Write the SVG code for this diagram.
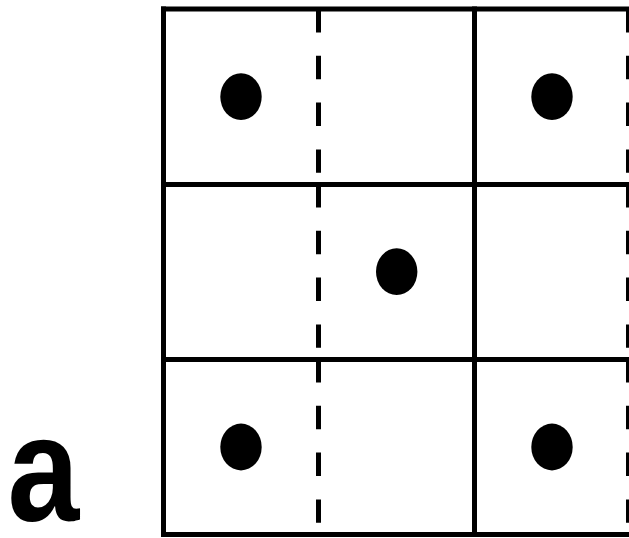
<svg xmlns="http://www.w3.org/2000/svg" width="629" height="538" viewBox="0 0 629 538">
  <style>
    .solid { stroke: #000; stroke-width: 5; fill: none; stroke-linecap: square; }
    .dash { stroke: #000; stroke-width: 5; fill: none; stroke-dasharray: 23.4 23.4; }
    .dot { fill: #000; }
    .label { font-family: "Liberation Sans", Arial, sans-serif; font-weight: bold; font-size: 150px; fill: #000; }
  </style>
  <rect width="629" height="538" fill="#fff"/>
  <g id="grid">
    <g id="dashed-lines">
      <line class="dash" x1="318.5" y1="9" x2="318.5" y2="184"/>
      <line class="dash" x1="318.5" y1="184" x2="318.5" y2="359"/>
      <line class="dash" x1="318.5" y1="359" x2="318.5" y2="534"/>
      <line class="dash" x1="628.5" y1="9" x2="628.5" y2="184"/>
      <line class="dash" x1="628.5" y1="184" x2="628.5" y2="359"/>
      <line class="dash" x1="628.5" y1="359" x2="628.5" y2="534"/>
    </g>
    <g id="solid-lines">
      <line class="solid" x1="163.5" y1="9" x2="163.5" y2="534.5"/>
      <line class="solid" x1="474.5" y1="9" x2="474.5" y2="534.5"/>
      <line class="solid" x1="163.5" y1="9" x2="628" y2="9"/>
      <line class="solid" x1="163.5" y1="184.5" x2="628" y2="184.5"/>
      <line class="solid" x1="163.5" y1="359.5" x2="628" y2="359.5"/>
      <line class="solid" x1="163.5" y1="534.5" x2="628" y2="534.5"/>
    </g>
  </g>
  <g id="dots">
    <ellipse class="dot" cx="241" cy="96.7" rx="20.7" ry="23.4"/>
    <ellipse class="dot" cx="552" cy="96.7" rx="20.7" ry="23.4"/>
    <ellipse class="dot" cx="396.7" cy="271.7" rx="20.7" ry="23.4"/>
    <ellipse class="dot" cx="241" cy="447" rx="20.7" ry="23.4"/>
    <ellipse class="dot" cx="552" cy="447" rx="20.7" ry="23.4"/>
  </g>
  <text class="label" transform="translate(7.5,521) scale(0.86,1)" x="0" y="0">a</text>
</svg>
